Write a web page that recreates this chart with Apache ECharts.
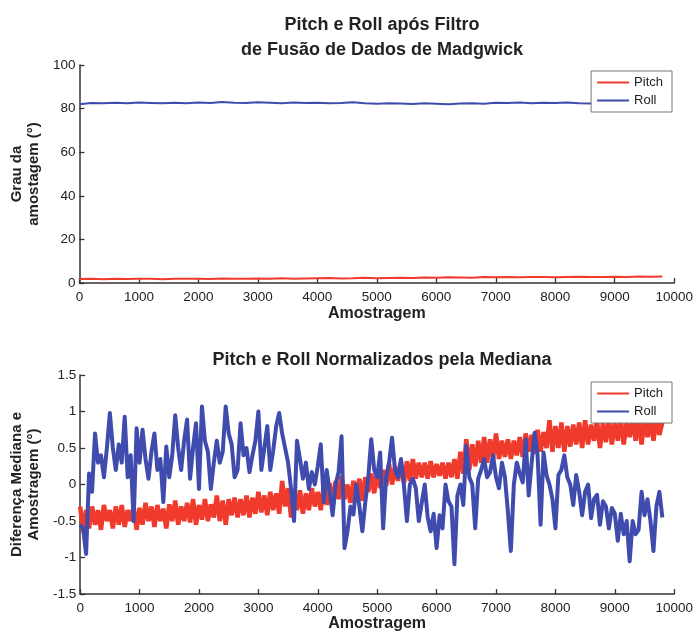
<!DOCTYPE html>
<html><head><meta charset="utf-8">
<script src="https://cdn.jsdelivr.net/npm/echarts@6/dist/echarts.min.js"></script>
<style>html,body{margin:0;padding:0;background:#fff}#c{width:696px;height:633px}</style>
</head><body><div id="c"></div>
<script>
// ---- Data ----
const seriesNames = ['Pitch', 'Roll'];
const xTicks = ['0','1000','2000','3000','4000','5000','6000','7000','8000','9000','10000'];
// top plot: samples every 200
const topStep = 200;
const topPitch = [
1.8,2.0,1.7,1.9,1.8,2.0,1.9,1.7,2.0,1.9,
2.0,1.8,2.1,1.9,2.0,2.1,1.9,2.2,2.0,2.1,
2.2,2.3,2.1,2.2,2.4,2.2,2.3,2.4,2.3,2.5,
2.4,2.6,2.5,2.4,2.7,2.6,2.8,2.6,2.7,2.8,
2.6,2.8,2.9,2.7,2.8,2.9,2.8,3.0,2.9,3.0];
const topRoll = [
82.0,82.6,82.4,82.7,82.5,82.8,82.6,82.4,82.7,82.5,
82.8,82.6,83.0,82.7,82.6,82.9,82.7,82.5,82.8,82.6,
82.7,82.5,82.6,82.9,82.4,82.2,82.5,82.3,82.1,82.4,
82.2,82.0,82.3,82.5,82.2,82.7,82.6,82.8,82.5,82.7,
82.6,82.8,82.5,82.3,82.6,82.4,82.5,82.3,82.4,82.2];
// bottom plot: samples every 50
const botStep = 50;
const botPitch = [
-0.3,-0.65,-0.35,-0.6,-0.3,-0.55,-0.35,-0.62,-0.28,-0.5,-0.35,-0.6,-0.3,-0.55,-0.28,-0.58,-0.35,-0.5,-0.3,-0.62,
-0.32,-0.55,-0.25,-0.5,-0.3,-0.58,-0.28,-0.5,-0.33,-0.6,-0.27,-0.5,-0.22,-0.55,-0.3,-0.5,-0.25,-0.52,-0.2,-0.55,
-0.28,-0.48,-0.2,-0.5,-0.27,-0.45,-0.15,-0.5,-0.22,-0.55,-0.2,-0.42,-0.18,-0.45,-0.2,-0.42,-0.15,-0.45,-0.18,-0.4,
-0.1,-0.38,-0.15,-0.42,-0.1,-0.35,-0.12,-0.4,0.05,-0.3,-0.05,-0.45,-0.1,-0.35,-0.08,-0.4,-0.12,-0.35,-0.05,-0.3,
-0.1,-0.35,-0.02,-0.28,0.02,-0.3,0.05,-0.2,0.12,-0.2,0.0,-0.25,0.05,-0.15,0.08,-0.22,0.1,-0.1,0.15,-0.12,
0.18,-0.05,0.2,-0.02,0.28,0.0,0.25,0.05,0.3,0.02,0.32,0.05,0.35,0.08,0.3,0.1,0.3,0.08,0.32,0.1,
0.28,0.12,0.3,0.08,0.3,0.1,0.35,0.08,0.45,0.15,0.62,0.2,0.55,0.25,0.6,0.3,0.65,0.3,0.62,0.35,
0.7,0.35,0.6,0.38,0.62,0.35,0.6,0.4,0.65,0.38,0.7,0.45,0.68,0.42,0.75,0.45,0.72,0.5,0.88,0.45,
0.8,0.5,0.85,0.45,0.8,0.52,0.82,0.55,0.85,0.5,0.88,0.55,0.82,0.6,0.88,0.5,0.85,0.58,0.9,0.55,
0.86,0.6,0.9,0.55,0.85,0.65,0.9,0.6,0.88,0.55,0.9,0.65,0.88,0.6,0.9,0.68,0.85];
const botRoll = [
-0.55,-0.6,-0.95,0.15,-0.1,0.7,0.3,0.4,0.1,0.5,0.98,0.5,0.2,0.55,0.3,0.93,0.1,0.4,-0.5,0.77,
0.3,0.75,0.35,0.08,0.45,0.7,0.2,0.35,-0.24,0.52,0.1,0.4,0.95,0.5,0.2,0.6,0.89,0.08,0.5,0.84,
-0.06,1.07,0.6,0.45,-0.06,0.3,0.6,0.3,0.45,1.07,0.7,0.55,0.1,0.2,0.84,0.4,0.5,0.17,0.4,0.6,
1.0,0.2,0.5,0.8,0.2,0.47,0.8,0.98,0.7,0.5,0.3,-0.06,-0.5,0.6,0.35,0.08,0.3,-0.06,0.17,0.0,
0.25,0.55,-0.24,0.2,-0.1,-0.42,0.0,0.17,0.66,-0.87,-0.64,-0.3,-0.41,0.0,-0.3,-0.64,-0.24,0.1,0.62,0.2,
0.1,0.44,-0.6,0.1,0.3,0.64,0.2,0.1,0.35,-0.01,-0.5,0.0,0.08,-0.05,-0.5,-0.25,0.0,-0.45,-0.64,-0.4,
-0.87,-0.42,-0.6,0.0,-0.23,-0.3,-1.09,-0.15,0.0,-0.28,0.53,0.1,0.0,-0.6,0.08,0.2,0.35,0.1,0.17,0.4,
0.1,-0.05,0.3,0.1,-0.37,-0.91,0.0,0.3,0.15,0.03,0.62,-0.15,0.3,0.71,0.4,-0.55,0.44,0.13,0.0,-0.2,
-0.6,0.13,0.2,0.4,0.1,0.0,-0.28,0.13,-0.1,-0.42,-0.1,0.0,-0.46,-0.2,-0.14,-0.55,-0.23,-0.3,-0.6,-0.32,
-0.4,-0.77,-0.4,-0.68,-0.5,-1.05,-0.5,-0.68,-0.62,-0.1,-0.42,-0.2,-0.5,-0.91,-0.3,-0.1,-0.45];
const topYTicks = ['0','20','40','60','80','100'];
const botYTicks = ['-1.5','-1','-0.5','0','0.5','1','1.5'];

// ---- Chart ----
const RED = '#f03a2c', BLUE = '#3f4cae';
const FONT = 'Liberation Sans, Arial, sans-serif';
const pairs = (arr, step) => arr.map((v, i) => [i * step, v]);
const chart = echarts.init(document.getElementById('c'), null, {renderer: 'canvas'});

function xAxisCfg(gi, gap) {
  return {
    type: 'value', gridIndex: gi, min: 0, max: 10000, interval: 1000,
    name: 'Amostragem', nameLocation: 'middle', nameGap: gap,
    nameTextStyle: {fontFamily: FONT, fontWeight: 'bold', fontSize: 16, color: '#222'},
    axisLine: {onZero: false, lineStyle: {color: '#333', width: 1.5}},
    axisTick: {inside: true, length: 5, lineStyle: {color: '#333', width: 1.3}},
    axisLabel: {fontFamily: FONT, fontSize: 13.5, color: '#222', margin: 7,
      formatter: v => xTicks[Math.round(v / 1000)]},
    splitLine: {show: false}
  };
}
function yAxisCfg(gi, min, max, interval, name, ticks) {
  return {
    type: 'value', gridIndex: gi, min, max, interval,
    name, nameLocation: 'middle', nameGap: 33,
    nameTextStyle: {fontFamily: FONT, fontWeight: 'bold', fontSize: 15, color: '#222', lineHeight: 17},
    axisLine: {show: true, onZero: false, lineStyle: {color: '#333', width: 1.5}},
    axisTick: {show: true, inside: true, length: 5, lineStyle: {color: '#333', width: 1.3}},
    axisLabel: {fontFamily: FONT, fontSize: 13.5, color: '#222', margin: 4,
      formatter: v => ticks[Math.round((v - min) / interval)]},
    splitLine: {show: false}
  };
}
const legendCfg = (top) => ({
  right: 24, top, orient: 'vertical', data: seriesNames,
  backgroundColor: '#fff', borderColor: '#777', borderWidth: 1,
  padding: [5, 9, 5, 6], itemGap: 5, itemWidth: 32, itemHeight: 2, icon: 'rect',
  textStyle: {fontFamily: FONT, fontSize: 13, color: '#222'}
});

chart.setOption({
  animation: false,
  backgroundColor: '#fff',
  title: [
    {text: 'Pitch e Roll após Filtro\nde Fusão de Dados de Madgwick', left: 377, top: 8, textAlign: 'center',
     textStyle: {fontFamily: FONT, fontWeight: 'bold', fontSize: 18, color: '#222', lineHeight: 25}},
    {text: 'Pitch e Roll Normalizados pela Mediana', left: 377, top: 343, textAlign: 'center',
     textStyle: {fontFamily: FONT, fontWeight: 'bold', fontSize: 18, color: '#222', lineHeight: 25}}
  ],
  legend: [legendCfg(71), legendCfg(382)],
  grid: [
    {left: 79, right: 21, top: 65, height: 218},
    {left: 79, right: 21, top: 375, height: 222}
  ],
  xAxis: [xAxisCfg(0, 23), xAxisCfg(1, 21)],
  yAxis: [
    yAxisCfg(0, 0, 100, 20, 'Grau da\namostagem (°)', topYTicks),
    yAxisCfg(1, -1.5, 1.5, 0.5, 'Diferença Mediana e\nAmostragem (°)', botYTicks)
  ],
  series: [
    {name: 'Pitch', type: 'line', xAxisIndex: 0, yAxisIndex: 0, data: pairs(topPitch, topStep),
     showSymbol: false, lineStyle: {color: RED, width: 2}, itemStyle: {color: RED}},
    {name: 'Roll', type: 'line', xAxisIndex: 0, yAxisIndex: 0, data: pairs(topRoll, topStep),
     showSymbol: false, lineStyle: {color: BLUE, width: 2}, itemStyle: {color: BLUE}},
    {name: 'Pitch', type: 'line', xAxisIndex: 1, yAxisIndex: 1, data: pairs(botPitch, botStep),
     showSymbol: false, lineStyle: {color: RED, width: 4.5}, itemStyle: {color: RED}},
    {name: 'Roll', type: 'line', xAxisIndex: 1, yAxisIndex: 1, data: pairs(botRoll, botStep),
     showSymbol: false, lineStyle: {color: BLUE, width: 4, join: 'round'}, itemStyle: {color: BLUE}}
  ]
});
</script></body></html>
